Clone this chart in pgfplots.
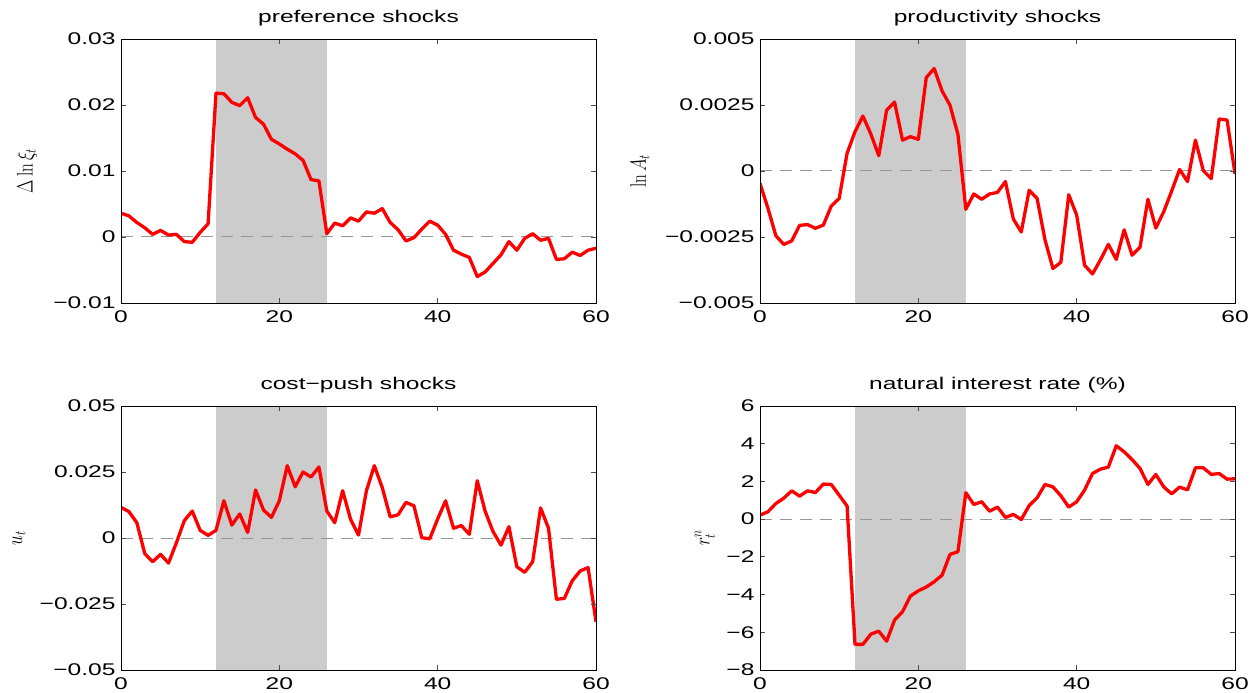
\documentclass[border=0pt]{standalone}
\usepackage[no-math]{fontspec}
\setmainfont{Liberation Sans}[FakeStretch=1.45]
\usepackage{pgfplots}
\usepackage{pgfplotstable}
\pgfplotsset{compat=1.18}
\definecolor{shadegray}{RGB}{204,204,204}
\definecolor{zl}{RGB}{150,150,150}

\pgfplotstableread{
x y
0 0.0036
1 0.0032
2 0.0022
3 0.0014
4 0.0004
5 0.0010
6 0.0003
7 0.0004
8 -0.0007
9 -0.0008
10 0.0007
11 0.0020
12 0.0218
13 0.0217
14 0.0204
15 0.0199
16 0.0211
17 0.0181
18 0.0171
19 0.0148
20 0.0141
21 0.0133
22 0.0126
23 0.0116
24 0.0087
25 0.0085
26 0.0005
27 0.0021
28 0.0017
29 0.0029
30 0.0024
31 0.0038
32 0.0036
33 0.0043
34 0.0022
35 0.0011
36 -0.0006
37 -0.0001
38 0.0012
39 0.0024
40 0.0018
41 0.0004
42 -0.0020
43 -0.0026
44 -0.0031
45 -0.0060
46 -0.0053
47 -0.0040
48 -0.0027
49 -0.0007
50 -0.0020
51 -0.0002
52 0.0005
53 -0.0005
54 -0.0002
55 -0.0034
56 -0.0033
57 -0.0023
58 -0.0028
59 -0.0020
60 -0.0017
}\pref

\pgfplotstableread{
x y
0 -0.00047
1 -0.00141
2 -0.00245
3 -0.00278
4 -0.00265
5 -0.00206
6 -0.00203
7 -0.00217
8 -0.00205
9 -0.00133
10 -0.00104
11 0.00067
12 0.00149
13 0.00208
14 0.00140
15 0.00058
16 0.00231
17 0.00261
18 0.00117
19 0.00130
20 0.00120
21 0.00354
22 0.00388
23 0.00303
24 0.00249
25 0.00139
26 -0.00145
27 -0.00087
28 -0.00107
29 -0.00087
30 -0.00081
31 -0.00040
32 -0.00182
33 -0.00231
34 -0.00073
35 -0.00104
36 -0.00261
37 -0.00369
38 -0.00346
39 -0.00090
40 -0.00167
41 -0.00357
42 -0.00390
43 -0.00337
44 -0.00278
45 -0.00335
46 -0.00223
47 -0.00319
48 -0.00289
49 -0.00107
50 -0.00216
51 -0.00154
52 -0.00076
53 0.00006
54 -0.00040
55 0.00117
56 0.00001
57 -0.00029
58 0.00197
59 0.00193
60 -0.00011
}\prod

\pgfplotstableread{
x y
0 0.0116
1 0.0100
2 0.0058
3 -0.0059
4 -0.0090
5 -0.0062
6 -0.0095
7 -0.0018
8 0.0066
9 0.0102
10 0.0029
11 0.0010
12 0.0029
13 0.0141
14 0.0049
15 0.0091
16 0.0021
17 0.0182
18 0.0106
19 0.0078
20 0.0141
21 0.0274
22 0.0194
23 0.0250
24 0.0231
25 0.0269
26 0.0102
27 0.0058
28 0.0179
29 0.0071
30 0.0011
31 0.0179
32 0.0274
33 0.0191
34 0.0080
35 0.0088
36 0.0135
37 0.0122
38 0.0001
39 -0.0003
40 0.0072
41 0.0141
42 0.0037
43 0.0047
44 0.0014
45 0.0217
46 0.0101
47 0.0024
48 -0.0027
49 0.0043
50 -0.0109
51 -0.0130
52 -0.0090
53 0.0114
54 0.0037
55 -0.0232
56 -0.0229
57 -0.0162
58 -0.0125
59 -0.0112
60 -0.0317
}\cost

\pgfplotstableread{
x y
0 0.21
1 0.39
2 0.83
3 1.11
4 1.50
5 1.22
6 1.50
7 1.41
8 1.86
9 1.84
10 1.27
11 0.69
12 -6.64
13 -6.64
14 -6.10
15 -5.94
16 -6.47
17 -5.35
18 -4.91
19 -4.08
20 -3.80
21 -3.60
22 -3.32
23 -2.97
24 -1.87
25 -1.73
26 1.40
27 0.78
28 0.92
29 0.42
30 0.64
31 0.09
32 0.25
33 -0.02
34 0.72
35 1.13
36 1.84
37 1.71
38 1.24
39 0.64
40 0.92
41 1.54
42 2.42
43 2.65
44 2.76
45 3.89
46 3.57
47 3.16
48 2.69
49 1.84
50 2.37
51 1.71
52 1.34
53 1.70
54 1.55
55 2.72
56 2.72
57 2.37
58 2.42
59 2.12
60 2.14
}\natrate

\pgfplotsset{
  mystyle/.style={
    width=475bp, height=264bp, scale only axis,
    anchor=south west,
    xmin=0, xmax=60, xtick={0,20,40,60},
    enlargelimits=false,
    axis on top,
    axis line style={black, line width=0.9bp},
    major tick length=5bp,
    every tick/.style={black!70, line width=0.8bp},
    tick label style={font=\fontsize{17}{20}\selectfont},
    /pgf/number format/assume math mode=true,
    scaled ticks=false,
    title style={font=\fontsize{17}{20}\selectfont, yshift=3.7bp},
    xticklabel style={yshift=-4bp},
    yticklabel style={xshift=-2bp},
    ylabel style={font=\fontsize{17}{20}\selectfont, anchor=center, yscale=1.3},
  },
  shadeplot/.style={fill=shadegray, draw=none, forget plot},
  zeroline/.style={zl, line width=1bp, dash pattern=on 12bp off 8bp},
  dataline/.style={red, line width=3.3bp, line join=round},
}

\begin{document}
\begin{tikzpicture}
\path[use as bounding box] (0,0) rectangle (1252bp,693bp);

% preference shocks
\begin{axis}[mystyle, at={(121bp,390bp)},
  ymin=-0.01, ymax=0.03, ytick={-0.01,0,0.01,0.02,0.03},
  yticklabels={−0.01,0,0.01,0.02,0.03},
  title={preference shocks},
  ylabel={$\Delta\ln\xi_t$},
  ylabel style={at={(axis description cs:-0.198,0.5)}}]
\addplot[shadeplot] coordinates {(12,-0.01) (12,0.03) (26,0.03) (26,-0.01)};
\addplot[zeroline] coordinates {(0,0) (60,0)};
\addplot[dataline] table[x=x,y=y] {\pref};
\end{axis}

% productivity shocks
\begin{axis}[mystyle, at={(760bp,390bp)},
  ymin=-0.005, ymax=0.005, ytick={-0.005,-0.0025,0,0.0025,0.005},
  yticklabels={−0.005,−0.0025,0,0.0025,0.005},
  title={productivity shocks},
  ylabel={$\ln A_t$},
  ylabel style={at={(axis description cs:-0.253,0.5)}}]
\addplot[shadeplot] coordinates {(12,-0.005) (12,0.005) (26,0.005) (26,-0.005)};
\addplot[zeroline] coordinates {(0,0) (60,0)};
\addplot[dataline] table[x=x,y=y] {\prod};
\end{axis}

% cost-push shocks
\begin{axis}[mystyle, at={(121bp,23bp)},
  ymin=-0.05, ymax=0.05, ytick={-0.05,-0.025,0,0.025,0.05},
  yticklabels={−0.05,−0.025,0,0.025,0.05},
  title={cost−push shocks},
  ylabel={$u_t$},
  ylabel style={at={(axis description cs:-0.215,0.5)}}]
\addplot[shadeplot] coordinates {(12,-0.05) (12,0.05) (26,0.05) (26,-0.05)};
\addplot[zeroline] coordinates {(0,0) (60,0)};
\addplot[dataline] table[x=x,y=y] {\cost};
\end{axis}

% natural interest rate
\begin{axis}[mystyle, at={(760bp,23bp)},
  ymin=-8, ymax=6, ytick={-8,-6,-4,-2,0,2,4,6},
  yticklabels={−8,−6,−4,−2,0,2,4,6},
  title={natural interest rate (\%)},
  ylabel={$r^n_t$},
  ylabel style={at={(axis description cs:-0.116,0.5)}}]
\addplot[shadeplot] coordinates {(12,-8) (12,6) (26,6) (26,-8)};
\addplot[zeroline] coordinates {(0,0) (60,0)};
\addplot[dataline] table[x=x,y=y] {\natrate};
\end{axis}
\end{tikzpicture}
\end{document}
